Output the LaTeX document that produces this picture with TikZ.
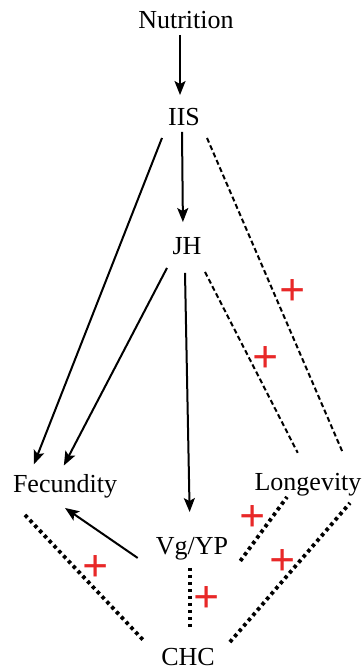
\documentclass[tikz,border=0pt]{standalone}
\usepackage{fontspec}
\setmainfont{Liberation Serif}
\usepackage{tikz}
\usetikzlibrary{arrows.meta, positioning}
\usepackage{xcolor}
\definecolor{plusred}{RGB}{232,40,40}

\begin{document}
\begin{tikzpicture}[
      x=1pt, y=-1pt,
      lbl/.style={font=\fontsize{26}{30}\selectfont, text height=17.5pt, text depth=0pt, inner xsep=2pt, inner ysep=6pt},
      arr/.style={-{Stealth[length=14pt, width=11pt, inset=3pt]}, line width=2pt},
      dashline/.style={line width=2pt, dash pattern=on 5pt off 3pt},
      dotline/.style={line width=3.8pt, dash pattern=on 3.5pt off 3.5pt},
      plus/.style={text=plusred, font=\fontsize{46}{50}\selectfont\bfseries, inner sep=0pt}
    ]
    \useasboundingbox (0,0) rectangle (363,671);

    \node[lbl] (nut) at (186,20) {Nutrition};
    \node[lbl] (iis) at (184,117) {IIS};
    \node[lbl] (jh) at (187,246) {JH};
    \node[lbl] (fec) at (65,484) {Fecundity};
    \node[lbl] (lon) at (308,482) {Longevity};
    \node[lbl] (vg) at (192,546) {Vg/YP};
    \node[lbl] (chc) at (188,657) {CHC};

    \draw[arr, shorten >=7pt] ([xshift=-6pt]nut.south) -- ([xshift=-4pt]iis.north);
    \draw[arr, shorten >=9pt] ([xshift=-2pt]iis.south) -- ([xshift=-4pt]jh.north);
    \draw[arr, shorten >=5pt] ([xshift=-22pt, yshift=-6pt]iis.south) -- ([xshift=-33pt]fec.north);
    \draw[dashline, shorten >=16pt] ([xshift=23pt, yshift=-6pt]iis.south) -- node[plus, pos=0.47, xshift=19pt]{+} ([xshift=41pt]lon.north);

    \draw[arr, shorten >=4pt] ([xshift=-20pt, yshift=-7pt]jh.south) -- ([xshift=-3pt]fec.north);
    \draw[arr, shorten >=19pt] ([xshift=-2pt, yshift=-12pt]jh.south) -- ([xshift=-2pt]vg.north);
    \draw[dashline, shorten >=16pt] ([xshift=18pt, yshift=-11pt]jh.south) -- node[plus, pos=0.45, xshift=16pt]{+} ([xshift=-3pt]lon.north);

    \draw[arr] ([xshift=-16pt, yshift=3pt]vg.south west) -- ([yshift=-9pt]fec.south);

    \draw[dotline] ([xshift=-40pt, yshift=-16pt]fec.south) -- node[plus, pos=0.42, xshift=20pt]{+} ([xshift=-14pt]chc.north west);
    \draw[dotline] ([xshift=-2pt, yshift=-7pt]vg.south) -- node[plus, pos=0.54, xshift=17pt]{+} ([xshift=2pt, yshift=15pt]chc.north);
    \draw[dotline] ([xshift=10pt]vg.south east) -- node[plus, pos=0.67, xshift=-19pt]{+} ([xshift=-21pt]lon.south);
    \draw[dotline] ([xshift=13pt]chc.north east) -- node[plus, pos=0.575, xshift=-16pt]{+} ([xshift=42pt, yshift=-6pt]lon.south);
  \end{tikzpicture}
\end{document}
